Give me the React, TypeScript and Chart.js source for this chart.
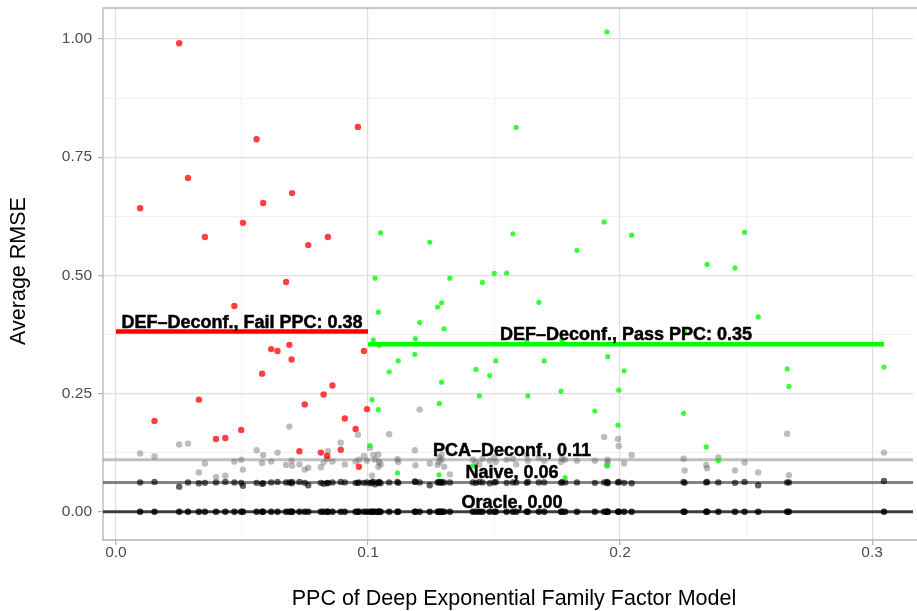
import React, { useEffect, useRef } from "react";
import { Chart, registerables } from "chart.js";

Chart.register(...registerables);

// PPC of the deep exponential family factor model, one entry per simulation
const ppc = [
  0.0096, 0.0153, 0.0251, 0.0286, 0.0329, 0.0353, 0.0397, 0.0434, 0.047, 0.0497,
  0.0504, 0.0558, 0.058, 0.0584, 0.0616, 0.0641, 0.0675, 0.0688, 0.0697, 0.0699,
  0.0728, 0.0749, 0.0763, 0.0813, 0.0824, 0.0838, 0.0841, 0.0859, 0.0892, 0.0908,
  0.0951, 0.096, 0.0964, 0.0984, 0.0996, 0.1008, 0.1016, 0.1021, 0.1028, 0.1041,
  0.1041, 0.1045, 0.105, 0.1084, 0.1117, 0.112, 0.1186, 0.1188, 0.1205, 0.1245,
  0.1276, 0.1282, 0.1283, 0.1292, 0.1292, 0.1302, 0.1325, 0.1416, 0.1428, 0.1442,
  0.1454, 0.1483, 0.1501, 0.1507, 0.155, 0.1575, 0.1588, 0.163, 0.1634, 0.1678,
  0.1699, 0.1766, 0.177, 0.1782, 0.1829, 0.19, 0.1937, 0.1948, 0.195, 0.1951,
  0.1992, 0.1995, 0.2016, 0.2046, 0.2252, 0.2256, 0.2342, 0.2345, 0.239, 0.2456,
  0.2494, 0.2548, 0.2663, 0.267, 0.3047,
];

// Average RMSE of DEF-Deconfounder per simulation
const defRmse = [
  0.642, 0.192, 0.991, 0.706, 0.237, 0.581, 0.154, 0.156, 0.435, 0.173,
  0.611, 0.788, 0.292, 0.653, 0.344, 0.34, 0.486, 0.353, 0.322, 0.674,
  0.128, 0.227, 0.564, 0.125, 0.248, 0.118, 0.581, 0.267, 0.131, 0.197,
  0.175, 0.814, 0.095, 0.34, 0.217, 0.14, 0.237, 0.363, 0.494, 0.422,
  0.216, 0.352, 0.59, 0.296, 0.082, 0.319, 0.333, 0.366, 0.4, 0.57,
  0.433, 0.078, 0.229, 0.442, 0.274, 0.387, 0.494, 0.097, 0.301, 0.245,
  0.485, 0.288, 0.504, 0.319, 0.505, 0.588, 0.813, 0.36, 0.245, 0.443,
  0.319, 0.255, 0.363, 0.072, 0.553, 0.213, 0.613, 1.015, 0.097, 0.328,
  0.183, 0.257, 0.298, 0.585, 0.208, 0.383, 0.137, 0.523, 0.108, 0.516,
  0.591, 0.412, 0.302, 0.265, 0.306,
];

// Average RMSE of PCA-Deconfounder per simulation
const pcaRmse = [
  0.123, 0.117, 0.142, 0.144, 0.083, 0.102, 0.073, 0.076, 0.106, 0.11,
  0.089, 0.13, 0.103, 0.12, 0.106, 0.125, 0.099, 0.18, 0.108, 0.097,
  0.1, 0.089, 0.093, 0.094, 0.104, 0.112, 0.128, 0.106, 0.146, 0.1,
  0.106, 0.163, 0.11, 0.118, 0.108, 0.135, 0.076, 0.12, 0.11, 0.121,
  0.095, 0.105, 0.1, 0.164, 0.111, 0.105, 0.13, 0.098, 0.216, 0.102,
  0.099, 0.105, 0.115, 0.11, 0.12, 0.095, 0.079, 0.11, 0.105, 0.1,
  0.112, 0.108, 0.115, 0.105, 0.11, 0.112, 0.1, 0.12, 0.108, 0.114,
  0.108, 0.105, 0.112, 0.11, 0.108, 0.108, 0.158, 0.098, 0.11, 0.105,
  0.154, 0.139, 0.102, 0.12, 0.112, 0.087, 0.099, 0.092, 0.115, 0.087,
  0.104, 0.083, 0.165, 0.077, 0.125,
];

// Average RMSE of the naive estimator per simulation
const naiveRmse = [
  0.062, 0.063, 0.053, 0.062, 0.06, 0.061, 0.062, 0.063, 0.062, 0.061,
  0.055, 0.061, 0.059, 0.06, 0.062, 0.063, 0.062, 0.062, 0.06, 0.063,
  0.063, 0.061, 0.056, 0.061, 0.059, 0.06, 0.061, 0.062, 0.063, 0.062,
  0.061, 0.061, 0.062, 0.061, 0.062, 0.06, 0.062, 0.063, 0.058, 0.061,
  0.062, 0.063, 0.06, 0.062, 0.063, 0.061, 0.064, 0.063, 0.062, 0.056,
  0.062, 0.063, 0.062, 0.061, 0.063, 0.062, 0.062, 0.062, 0.061, 0.063,
  0.062, 0.06, 0.062, 0.063, 0.061, 0.062, 0.062, 0.061, 0.063, 0.062,
  0.062, 0.061, 0.063, 0.062, 0.062, 0.061, 0.062, 0.063, 0.062, 0.06,
  0.062, 0.063, 0.061, 0.06, 0.063, 0.061, 0.062, 0.063, 0.062, 0.061,
  0.063, 0.056, 0.062, 0.062, 0.065,
];

// Average RMSE of the oracle per simulation
const oracleRmse = [
  0, 0, 0, 0, 0, 0, 0, 0, 0, 0,
  0, 0, 0, 0, 0, 0, 0, 0, 0, 0,
  0, 0, 0, 0, 0, 0, 0, 0, 0, 0,
  0, 0, 0, 0, 0, 0, 0, 0, 0, 0,
  0, 0, 0, 0, 0, 0, 0, 0, 0, 0,
  0, 0, 0, 0, 0, 0, 0, 0, 0, 0,
  0, 0, 0, 0, 0, 0, 0, 0, 0, 0,
  0, 0, 0, 0, 0, 0, 0, 0, 0, 0,
  0, 0, 0, 0, 0, 0, 0, 0, 0, 0,
  0, 0, 0, 0, 0,
];

const ppcThreshold = 0.1;
const failMean = 0.381;
const passMean = 0.354;
const pcaMean = 0.11;
const naiveMean = 0.062;
const oracleMean = 0.0;

const xTickLabels = [0, 0.1, 0.2, 0.3];
const xMinorTicks = [0.05, 0.15, 0.25];
const yTickLabels = [0, 0.25, 0.5, 0.75, 1.0];
const yMinorTicks = [0.125, 0.375, 0.625, 0.875];

const X_MIN = -0.00513;
const X_MAX = 0.31622;
const Y_MIN = -0.0599;
const Y_MAX = 1.06558;

const FONT = "'Liberation Sans', Arial, sans-serif";

const isMajor = (v: number, list: number[]) => list.some((t) => Math.abs(t - v) < 1e-9);

export default function App() {
  const ref = useRef<HTMLCanvasElement | null>(null);

  useEffect(() => {
    const canvas = ref.current;
    if (!canvas) return;

    const fail = ppc
      .map((x, i) => ({ x, y: defRmse[i] }))
      .filter((p) => p.x < ppcThreshold);
    const pass = ppc
      .map((x, i) => ({ x, y: defRmse[i] }))
      .filter((p) => p.x >= ppcThreshold);
    const pca = ppc.map((x, i) => ({ x, y: pcaRmse[i] }));
    const naive = ppc.map((x, i) => ({ x, y: naiveRmse[i] }));
    const oracle = ppc.map((x, i) => ({ x, y: oracleRmse[i] }));
    const ppcMin = Math.min(...ppc);
    const ppcMax = Math.max(...ppc);

    const seg = (x0: number, x1: number, y: number) => [
      { x: x0, y },
      { x: x1, y },
    ];

    const labelsPlugin = {
      id: "labelsPlugin",
      beforeDatasetsDraw(chart: any) {
        const { ctx, chartArea } = chart;
        ctx.save();
        ctx.strokeStyle = "#b3b3b3";
        ctx.lineWidth = 1.3;
        ctx.beginPath();
        ctx.moveTo(chartArea.right + 20, chartArea.top);
        ctx.lineTo(chartArea.left, chartArea.top);
        ctx.lineTo(chartArea.left, chartArea.bottom);
        ctx.lineTo(chartArea.right + 20, chartArea.bottom);
        ctx.stroke();
        ctx.restore();
      },
      afterDatasetsDraw(chart: any) {
        const { ctx } = chart;
        const xs = chart.scales.x;
        const ys = chart.scales.y;
        ctx.save();
        ctx.fillStyle = "#000";
        ctx.strokeStyle = "#000";
        ctx.lineWidth = 0.5;
        ctx.font = `bold 18px ${FONT}`;
        ctx.textAlign = "center";
        ctx.textBaseline = "alphabetic";
        const put = (text: string, xv: number, yv: number) => {
          const px = xs.getPixelForValue(xv);
          const py = ys.getPixelForValue(yv) - 4;
          ctx.fillText(text, px, py);
          ctx.strokeText(text, px, py);
        };
        const mid = (ppcMin + ppcMax) / 2;
        put(`DEF\u2013Deconf., Fail PPC: ${failMean.toFixed(2)}`, ppcThreshold / 2, failMean);
        put(`DEF\u2013Deconf., Pass PPC: ${passMean.toFixed(2)}`, (ppcThreshold + ppcMax) / 2, passMean);
        put(`PCA\u2013Deconf., ${pcaMean.toFixed(2)}`, mid, pcaMean);
        put(`Naive, ${naiveMean.toFixed(2)}`, mid, naiveMean);
        put(`Oracle, ${oracleMean.toFixed(2)}`, mid, oracleMean);

        // axis titles
        ctx.font = `21.5px ${FONT}`;
        ctx.fillStyle = "#000";
        ctx.textAlign = "center";
        ctx.textBaseline = "alphabetic";
        ctx.fillText("PPC of Deep Exponential Family Factor Model", 514, 605);
        ctx.translate(25, 271);
        ctx.rotate(-Math.PI / 2);
        ctx.fillText("Average RMSE", 0, 0);
        ctx.restore();
      },
    };

    const chart = new Chart(canvas, {
      type: "scatter",
      data: {
        datasets: [
          {
            label: "fail-line",
            data: seg(0, ppcThreshold, failMean),
            showLine: true,
            borderColor: "#ff0000",
            borderWidth: 4.5,
            pointRadius: 0,
            order: 1,
          },
          {
            label: "pass-line",
            data: seg(ppcThreshold, ppcMax, passMean),
            showLine: true,
            borderColor: "#00ff00",
            borderWidth: 4.5,
            pointRadius: 0,
            order: 1,
          },
          {
            label: "fail",
            data: fail,
            backgroundColor: "rgba(255,0,0,0.75)",
            borderWidth: 0,
            pointRadius: 3.2,
            order: 2,
          },
          {
            label: "pass",
            data: pass,
            backgroundColor: "rgba(0,255,0,0.78)",
            borderWidth: 0,
            pointRadius: 2.6,
            order: 2,
          },
          {
            label: "pca",
            data: pca,
            backgroundColor: "rgba(90,90,90,0.4)",
            borderWidth: 0,
            pointRadius: 3.2,
            order: 3,
          },
          {
            label: "naive",
            data: naive,
            backgroundColor: "rgba(0,0,0,0.62)",
            borderWidth: 0,
            pointRadius: 3.2,
            order: 3,
          },
          {
            label: "oracle",
            data: oracle,
            backgroundColor: "rgba(0,0,0,0.8)",
            borderWidth: 0,
            pointRadius: 3.2,
            order: 3,
          },
          {
            label: "pca-line",
            data: seg(X_MIN - 0.05, X_MAX + 0.05, pcaMean),
            showLine: true,
            borderColor: "rgba(150,150,150,0.6)",
            borderWidth: 3,
            pointRadius: 0,
            order: 4,
          },
          {
            label: "naive-line",
            data: seg(X_MIN - 0.05, X_MAX + 0.05, naiveMean),
            showLine: true,
            borderColor: "rgba(90,90,90,0.75)",
            borderWidth: 3,
            pointRadius: 0,
            order: 4,
          },
          {
            label: "oracle-line",
            data: seg(X_MIN - 0.05, X_MAX + 0.05, oracleMean),
            showLine: true,
            borderColor: "rgba(30,30,30,0.85)",
            borderWidth: 3,
            pointRadius: 0,
            order: 4,
          },
        ],
      },
      options: {
        responsive: false,
        animation: false,
        devicePixelRatio: 1,
        layout: { padding: { top: 8, left: 0, right: 0, bottom: 0 } },
        plugins: {
          legend: { display: false },
          tooltip: { enabled: false },
          title: { display: false },
        },
        scales: {
          x: {
            type: "linear",
            min: X_MIN,
            max: X_MAX,
            afterBuildTicks: (s: any) => {
              s.ticks = [...xTickLabels, ...xMinorTicks]
                .sort((a, b) => a - b)
                .map((v) => ({ value: v }));
            },
            afterFit: (s: any) => {
              s.height = 71;
              s.paddingLeft = 0;
              s.paddingRight = 0;
            },
            border: { display: false },
            grid: {
              color: (c: any) => (isMajor(c.tick?.value, xTickLabels) ? "#dedede" : "#ececec"),
              lineWidth: (c: any) => (isMajor(c.tick?.value, xTickLabels) ? 1.2 : 0.7),
              tickColor: (c: any) => (isMajor(c.tick?.value, xTickLabels) ? "#b3b3b3" : "rgba(0,0,0,0)"),
              tickLength: 5,
              drawTicks: true,
            },
            ticks: {
              autoSkip: false,
              maxRotation: 0,
              padding: -2,
              color: "#4d4d4d",
              font: { family: FONT, size: 15.5 },
              callback: (v: any) => (isMajor(Number(v), xTickLabels) ? Number(v).toFixed(1) : ""),
            },
          },
          y: {
            type: "linear",
            min: Y_MIN,
            max: Y_MAX,
            afterBuildTicks: (s: any) => {
              s.ticks = [...yTickLabels, ...yMinorTicks]
                .sort((a, b) => a - b)
                .map((v) => ({ value: v }));
            },
            afterFit: (s: any) => {
              s.width = 103;
              s.paddingTop = 0;
              s.paddingBottom = 0;
            },
            border: { display: false },
            grid: {
              color: (c: any) => (isMajor(c.tick?.value, yTickLabels) ? "#dedede" : "#ececec"),
              lineWidth: (c: any) => (isMajor(c.tick?.value, yTickLabels) ? 1.2 : 0.7),
              tickColor: (c: any) => (isMajor(c.tick?.value, yTickLabels) ? "#b3b3b3" : "rgba(0,0,0,0)"),
              tickLength: 5,
              drawTicks: true,
            },
            ticks: {
              autoSkip: false,
              padding: 6,
              color: "#4d4d4d",
              font: { family: FONT, size: 15.5 },
              callback: (v: any) => (isMajor(Number(v), yTickLabels) ? Number(v).toFixed(2) : ""),
            },
          },
        },
      },
      plugins: [labelsPlugin],
    } as any);

    return () => chart.destroy();
  }, []);

  return (
    <div style={{ position: "absolute", left: 0, top: 0, width: 917, height: 611, background: "#fff" }}>
      <canvas ref={ref} width={917} height={611} style={{ width: 917, height: 611 }} />
    </div>
  );
}
